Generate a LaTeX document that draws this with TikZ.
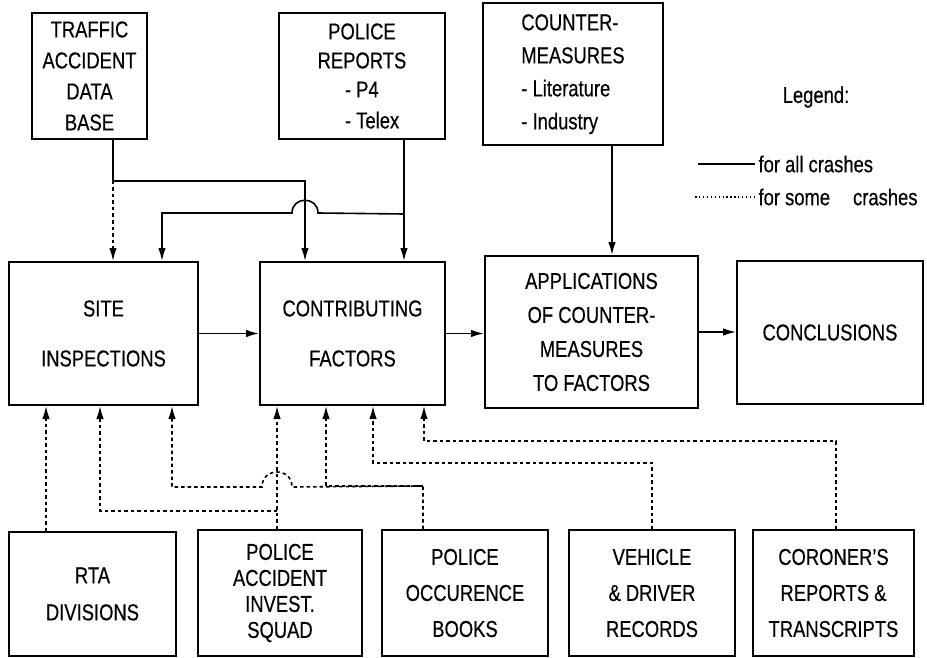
\documentclass[tikz,border=0pt]{standalone}
\usepackage{fontspec}
\setmainfont{Liberation Sans}[FakeStretch=0.8,FakeBold=0.4]
\usetikzlibrary{arrows.meta}
\tikzset{
  box/.style={draw, line width=2pt, inner sep=0pt, align=center},
  all/.style={line width=1.6pt},
  some/.style={line width=1.6pt, dash pattern=on 3.5pt off 3pt},
}
\begin{document}
\begin{tikzpicture}[x=1pt,y=-1pt,font=\fontsize{23}{29}\selectfont,>={Latex[length=13pt,width=7.5pt]}]
\useasboundingbox (0,0) rectangle (927,658);
% sources on top
\node[box, minimum width=115, minimum height=126] (trf) at (89.5,76) {TRAFFIC\\[2pt]ACCIDENT\\[2pt]DATA\\[2pt]BASE};
\node[box, minimum width=166, minimum height=126] (pol) at (362,76) {POLICE\\REPORTS\\\makebox[34pt][l]{- P4}\\[2pt]\makebox[34pt][l]{- Telex}};
\node[box, minimum width=180, minimum height=142] (cm) at (573,74) {\begin{tabular}{@{}l@{}}COUNTER-\\[4pt]MEASURES\\[4pt]- Literature\\[4pt]- Industry\end{tabular}};
% legend
\node (leg) at (816,97) {Legend:};
\node[anchor=west] (lall) at (755,164) {for all crashes};
\node[anchor=west] (lsome) at (755,197) {for some\quad crashes};
\draw[all] (lall.west) -- ++(-57,0);
\draw[line width=1.3pt, dash pattern=on 1.3pt off 2.6pt] (lsome.west) -- ++(-62,0);
% main chain
\node[box, minimum width=189, minimum height=143] (site) at (103.5,333.5) {SITE\\[21pt]INSPECTIONS};
\node[box, minimum width=185, minimum height=143] (cf) at (352.5,333.5) {CONTRIBUTING\\[21pt]FACTORS};
\node[box, minimum width=213, minimum height=152] (app) at (591.5,332) {APPLICATIONS\\[5pt]OF COUNTER-\\[5pt]MEASURES\\[5pt]TO FACTORS};
\node[box, minimum width=186, minimum height=143] (conc) at (830,332.5) {CONCLUSIONS};
% sources at the bottom
\node[box, minimum width=167, minimum height=124] (rta) at (92.5,594) {RTA\\[8pt]DIVISIONS};
\node[box, minimum width=164, minimum height=126] (pais) at (280,593) {POLICE\\[-3pt]ACCIDENT\\[-3pt]INVEST.\\[-3pt]SQUAD};
\node[box, minimum width=166, minimum height=126] (pob) at (465,593) {POLICE\\[7pt]OCCURENCE\\[7pt]BOOKS};
\node[box, minimum width=166, minimum height=126] (vdr) at (652,593) {VEHICLE\\[7pt]\& DRIVER\\[7pt]RECORDS};
\node[box, minimum width=161, minimum height=126] (cor) at (833.5,593) {CORONER'S\\[7pt]REPORTS \&\\[7pt]TRANSCRIPTS};
% top connectors
\draw[all,->] ([xshift=23.5pt]trf.south) -- ++(0,41) -| ([xshift=-47.5pt]cf.north);
\draw[some,->] ([xshift=23.5pt]trf.south) ++(0,41) -- ([xshift=9.5pt]site.north);
\draw[all,->] ([xshift=42pt]pol.south) -- ([xshift=51.5pt]cf.north);
\draw[all,->] ([xshift=42pt]pol.south) ++(0,74) -- (318,213) .. controls (318,196) and (292,196) .. (292,213) -| ([xshift=58.5pt]site.north);
\draw[all,->] ([xshift=39pt]cm.south) -- ([xshift=39pt]cm.south |- app.north);
\draw[all,->] (site.east) -- (cf.west);
\draw[all,->] (cf.east) -- (cf.east -| app.west);
\draw[all,->] (app.east) -- (app.east -| conc.west);
% bottom connectors
\draw[some,->] ([xshift=-46.5pt]rta.north) -- ([xshift=-46.5pt]rta.north |- site.south);
\draw[some,->] ([xshift=-3pt]pais.north) -- ([xshift=-3pt]pais.north |- cf.south);
\draw[some,->] ([xshift=-3pt]pais.north) ++(0,-18) -| ([xshift=-3.5pt]site.south);
\draw[some,->] ([xshift=-42pt]pob.north) -- ++(0,-43) -- (292,487) .. controls (292,467) and (262,467) .. (262,487) -| ([xshift=68.5pt]site.south);
\draw[some,->] ([xshift=-42pt]pob.north) ++(0,-43) -| ([xshift=-26.5pt]cf.south);
\draw[some,->] (vdr.north) -- ++(0,-66) -| ([xshift=20.5pt]cf.south);
\draw[some,->] ([xshift=2.5pt]cor.north) -- ++(0,-88) -| ([xshift=71.5pt]cf.south);
\end{tikzpicture}
\end{document}
